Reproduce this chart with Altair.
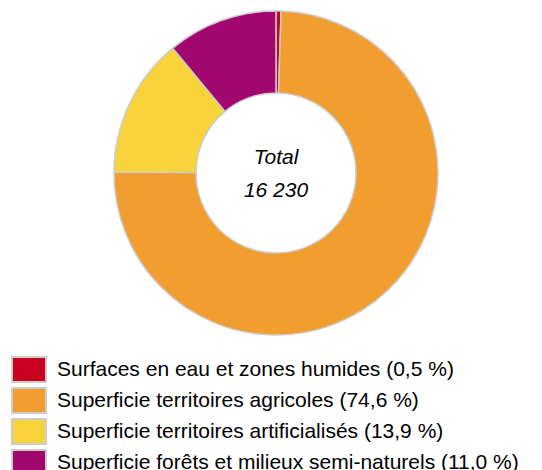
import altair as alt
import pandas as pd

categories = [
    "Surfaces en eau et zones humides (0,5 %)",
    "Superficie territoires agricoles (74,6 %)",
    "Superficie territoires artificialisés (13,9 %)",
    "Superficie forêts et milieux semi-naturels (11,0 %)",
]
shares = [0.5, 74.6, 13.9, 11.0]
colors = ["#C9021F", "#F29D2F", "#F8D43A", "#A1076F"]
center_text = "Total\n16 230"

df = pd.DataFrame({"cat": categories, "share": shares, "order": list(range(len(categories)))})
df_text = pd.DataFrame({"label": [center_text]})

arc = alt.Chart(df).mark_arc(
    outerRadius=162, innerRadius=80, stroke="#cccccc", strokeWidth=1.5
).encode(
    theta=alt.Theta("share:Q", stack=True),
    order=alt.Order("order:Q"),
    color=alt.Color(
        "cat:N",
        scale=alt.Scale(domain=categories, range=colors),
        legend=alt.Legend(
            title=None,
            orient="none",
            legendX=7.5,
            legendY=348,
            symbolType="M-1.36,-1H1.36V1H-1.36Z",
            symbolSize=625,
            symbolStrokeColor="#cccccc",
            symbolStrokeWidth=2,
            symbolOpacity=1,
            labelFontSize=21,
            labelFont="Liberation Sans",
            labelColor="#000000",
            labelOffset=14.5,
            rowPadding=-2,
            padding=0,
            labelLimit=700,
        ),
    ),
    x=alt.value(268),
    y=alt.value(165),
)

txt = alt.Chart(df_text).mark_text(
    font="Liberation Sans", fontSize=21, fontStyle="italic", lineBreak="\n",
    lineHeight=33, align="center", baseline="middle", color="#000000"
).encode(text="label:N", x=alt.value(268), y=alt.value(150))

chart = alt.layer(arc, txt).properties(
    width=526, height=462, autosize=alt.AutoSizeParams(type="none"), padding=0
).configure_view(stroke=None)

chart.save("out.html", embed_options={"renderer": "svg", "actions": False})
